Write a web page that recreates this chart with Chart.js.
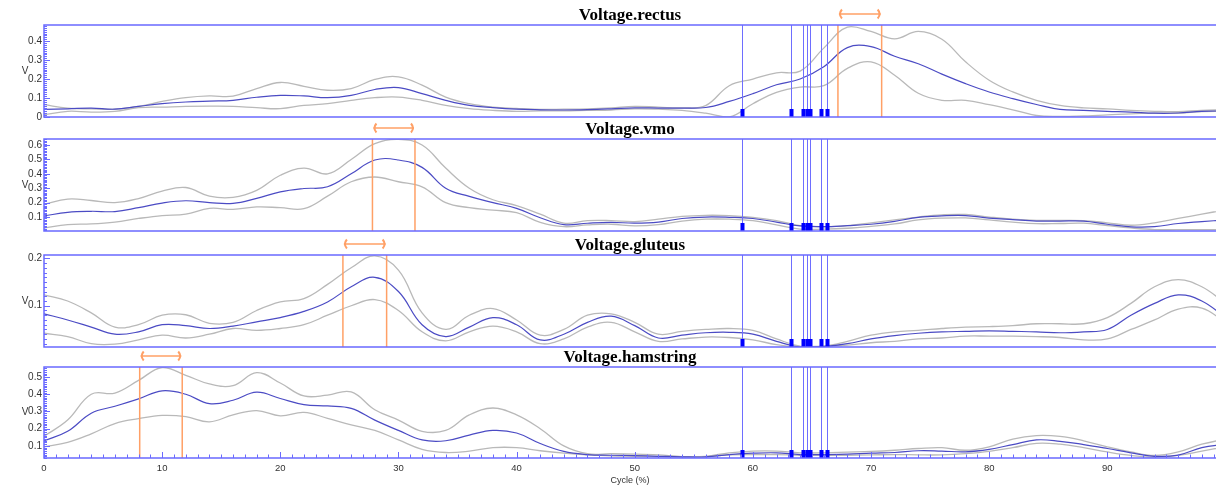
<!DOCTYPE html>
<html><head><meta charset="utf-8">
<script src="https://cdn.jsdelivr.net/npm/chart.js@4.4.1/dist/chart.umd.min.js"></script>
<style>
html,body{margin:0;padding:0;background:#fff;}
#wrap{position:relative;width:1216px;height:488px;overflow:hidden;background:#fff;}
canvas{position:absolute;left:0;}
</style></head><body>
<div id="wrap">
<canvas id="c1" width="1216" height="125" style="top:0px"></canvas>
<canvas id="c2" width="1216" height="125" style="top:114px"></canvas>
<canvas id="c3" width="1216" height="125" style="top:230px"></canvas>
<canvas id="c4" width="1216" height="146" style="top:342px"></canvas>
</div>
<script>
const cycle = [0,2,4,6,8,10,12,14,16,18,20,22,24,26,28,30,32,34,36,38,40,42,44,46,48,50,52,54,56,58,60,62,64,66,68,70,72,74,76,78,80,82,84,86,88,90,92,94,96,98,100];

const rectusUpper = [0.065,0.047,0.043,0.041,0.056,0.082,0.102,0.111,0.11,0.15,0.182,0.162,0.141,0.15,0.198,0.212,0.168,0.105,0.07,0.052,0.045,0.04,0.041,0.043,0.048,0.056,0.052,0.048,0.06,0.165,0.2,0.233,0.242,0.363,0.474,0.451,0.412,0.451,0.41,0.291,0.194,0.132,0.088,0.061,0.048,0.043,0.035,0.03,0.028,0.035,0.038];
const rectusMean  = [0.04,0.043,0.047,0.041,0.056,0.07,0.079,0.084,0.088,0.104,0.114,0.111,0.102,0.114,0.145,0.155,0.123,0.088,0.061,0.049,0.041,0.038,0.037,0.039,0.043,0.048,0.047,0.047,0.05,0.082,0.123,0.17,0.2,0.265,0.366,0.371,0.32,0.281,0.226,0.176,0.132,0.097,0.066,0.04,0.035,0.03,0.026,0.02,0.021,0.03,0.032];
const rectusLower = [0.012,0.03,0.026,0.03,0.049,0.052,0.056,0.057,0.056,0.049,0.044,0.061,0.07,0.088,0.102,0.105,0.088,0.061,0.044,0.035,0.03,0.032,0.032,0.035,0.037,0.043,0.041,0.035,0.02,0.0,0.07,0.13,0.158,0.165,0.256,0.291,0.22,0.125,0.088,0.088,0.065,0.038,0.008,0.003,0.006,0.011,0.017,0.02,0.021,0.028,0.03];

const vmoUpper = [0.188,0.225,0.215,0.2,0.228,0.28,0.305,0.245,0.237,0.285,0.39,0.44,0.4,0.5,0.61,0.64,0.6,0.44,0.3,0.22,0.18,0.12,0.058,0.075,0.075,0.068,0.085,0.105,0.112,0.11,0.098,0.075,0.04,0.032,0.04,0.06,0.08,0.1,0.115,0.118,0.1,0.085,0.077,0.077,0.075,0.06,0.043,0.06,0.09,0.12,0.15];
const vmoMean  = [0.107,0.133,0.14,0.138,0.165,0.197,0.213,0.2,0.195,0.23,0.275,0.298,0.31,0.4,0.496,0.496,0.445,0.3,0.243,0.2,0.16,0.095,0.047,0.057,0.063,0.058,0.065,0.09,0.1,0.098,0.09,0.065,0.038,0.033,0.04,0.05,0.07,0.098,0.108,0.11,0.093,0.082,0.072,0.072,0.072,0.05,0.032,0.033,0.055,0.068,0.08];
const vmoLower = [0.023,0.047,0.052,0.065,0.09,0.11,0.12,0.16,0.153,0.17,0.165,0.158,0.245,0.345,0.378,0.345,0.31,0.2,0.165,0.148,0.13,0.063,0.033,0.045,0.05,0.038,0.047,0.072,0.085,0.085,0.075,0.045,0.016,0.016,0.022,0.035,0.052,0.08,0.092,0.094,0.08,0.065,0.054,0.055,0.057,0.04,0.024,0.013,0.012,0.012,0.012];

const gluteusUpper = [0.123,0.11,0.085,0.055,0.06,0.08,0.081,0.063,0.065,0.09,0.108,0.115,0.145,0.18,0.205,0.175,0.085,0.05,0.08,0.094,0.07,0.038,0.05,0.08,0.083,0.065,0.04,0.046,0.05,0.052,0.048,0.03,0.015,0.015,0.025,0.038,0.045,0.048,0.052,0.055,0.056,0.058,0.062,0.062,0.062,0.075,0.105,0.14,0.155,0.14,0.105];
const gluteusMean  = [0.083,0.07,0.055,0.04,0.045,0.06,0.058,0.052,0.057,0.066,0.075,0.088,0.108,0.14,0.16,0.13,0.06,0.035,0.055,0.075,0.06,0.028,0.04,0.065,0.078,0.058,0.032,0.038,0.043,0.044,0.04,0.025,0.013,0.014,0.02,0.03,0.037,0.042,0.045,0.046,0.047,0.046,0.045,0.043,0.045,0.05,0.08,0.105,0.123,0.11,0.075];
const gluteusLower = [0.042,0.035,0.02,0.019,0.028,0.038,0.032,0.04,0.052,0.048,0.052,0.06,0.08,0.1,0.113,0.09,0.045,0.026,0.045,0.057,0.045,0.02,0.03,0.055,0.065,0.045,0.025,0.03,0.034,0.033,0.028,0.018,0.013,0.015,0.017,0.022,0.025,0.03,0.032,0.036,0.036,0.036,0.035,0.033,0.028,0.03,0.05,0.07,0.093,0.095,0.065];

const hamstringUpper = [0.156,0.25,0.4,0.407,0.48,0.555,0.51,0.46,0.45,0.525,0.465,0.39,0.395,0.413,0.31,0.25,0.185,0.19,0.28,0.32,0.28,0.2,0.1,0.055,0.055,0.053,0.048,0.038,0.04,0.06,0.07,0.07,0.06,0.06,0.064,0.068,0.075,0.085,0.09,0.075,0.095,0.14,0.16,0.155,0.13,0.095,0.065,0.045,0.065,0.11,0.14];
const hamstringMean  = [0.13,0.185,0.29,0.33,0.373,0.42,0.4,0.345,0.365,0.412,0.375,0.34,0.332,0.318,0.25,0.19,0.135,0.13,0.163,0.19,0.175,0.114,0.068,0.05,0.046,0.044,0.04,0.037,0.037,0.05,0.058,0.06,0.05,0.05,0.052,0.058,0.062,0.072,0.07,0.066,0.08,0.108,0.135,0.127,0.108,0.085,0.06,0.04,0.047,0.09,0.11];
const hamstringLower = [0.095,0.12,0.17,0.23,0.258,0.277,0.27,0.24,0.28,0.305,0.275,0.295,0.26,0.222,0.19,0.135,0.08,0.062,0.07,0.09,0.09,0.072,0.058,0.048,0.042,0.04,0.038,0.037,0.038,0.048,0.05,0.05,0.046,0.046,0.046,0.048,0.05,0.048,0.048,0.055,0.068,0.09,0.115,0.11,0.09,0.065,0.045,0.035,0.045,0.07,0.095];

const eventCycles = [59.05,63.2,64.27,64.56,64.81,65.74,66.3];
const rectusMarks = [67.2,70.9];
const vmoMarks = [27.8,31.4];
const gluteusMarks = [25.3,29.0];
const hamstringMarks = [8.1,11.7];

const rectusTicks = [0,0.1,0.2,0.3,0.4];
const vmoTicks = [0.1,0.2,0.3,0.4,0.5,0.6];
const gluteusTicks = [0.1,0.2];
const hamstringTicks = [0.1,0.2,0.3,0.4,0.5];
const cycleTicks = [0,10,20,30,40,50,60,70,80,90];

const FRAME = '#6a6aff';
const decor = {
  id: 'decor',
  afterDraw(chart, args, o) {
    const ctx = chart.ctx, a = chart.chartArea, x = chart.scales.x, y = chart.scales.y;
    ctx.save();
    // event lines
    ctx.strokeStyle = '#6e6eff';
    ctx.lineWidth = 1;
    for (const e of o.events) {
      const px = Math.round(x.getPixelForValue(e)) + 0.5;
      ctx.beginPath(); ctx.moveTo(px, a.top); ctx.lineTo(px, a.bottom); ctx.stroke();
    }
    ctx.fillStyle = '#0000ff';
    for (const e of o.events) {
      const px = x.getPixelForValue(e);
      ctx.fillRect(Math.round(px) - 1.5, a.bottom - 8, 4, 8);
    }
    // orange markers
    const p0 = x.getPixelForValue(o.marks[0]), p1 = x.getPixelForValue(o.marks[1]);
    ctx.strokeStyle = '#ffa066';
    ctx.lineWidth = 1.5;
    for (const p of [p0, p1]) {
      ctx.beginPath(); ctx.moveTo(p, a.top); ctx.lineTo(p, a.bottom); ctx.stroke();
    }
    const ay = a.top - 11;
    ctx.beginPath(); ctx.moveTo(p0 + 1, ay); ctx.lineTo(p1 - 1, ay); ctx.stroke();
    ctx.lineWidth = 2;
    ctx.beginPath(); ctx.moveTo(p0 + 4, ay - 4.5); ctx.quadraticCurveTo(p0, ay, p0 + 4, ay + 4.5); ctx.stroke();
    ctx.beginPath(); ctx.moveTo(p1 - 4, ay - 4.5); ctx.quadraticCurveTo(p1, ay, p1 - 4, ay + 4.5); ctx.stroke();
    // frame
    ctx.strokeStyle = FRAME;
    ctx.lineWidth = 1.5;
    ctx.beginPath();
    ctx.moveTo(a.right + 2, a.top); ctx.lineTo(a.left, a.top); ctx.lineTo(a.left, a.bottom); ctx.lineTo(a.right + 2, a.bottom);
    ctx.stroke();
    // y minor/major ticks
    ctx.lineWidth = 1;
    const i0 = Math.ceil(y.min * 100 - 1e-6), i1 = Math.floor(y.max * 100 + 1e-6);
    for (let i = i0; i <= i1; i++) {
      const py = Math.round(y.getPixelForValue(i / 100)) + 0.5;
      const len = (i % 10 === 0) ? 6 : 3;
      ctx.beginPath(); ctx.moveTo(a.left, py); ctx.lineTo(a.left + len, py); ctx.stroke();
    }
    // x ticks on bottom panel
    if (o.xticks) {
      for (let i = 0; i <= Math.floor(x.max); i++) {
        const px = Math.round(x.getPixelForValue(i)) + 0.5;
        const len = (i % 10 === 0) ? 6 : 3.5;
        ctx.beginPath(); ctx.moveTo(px, a.bottom); ctx.lineTo(px, a.bottom - len); ctx.stroke();
      }
    }
    // axis unit label
    ctx.fillStyle = '#333';
    ctx.font = '10px "Liberation Sans", Arial, sans-serif';
    ctx.textAlign = 'center';
    ctx.textBaseline = 'middle';
    ctx.fillText('V', 25, (a.top + a.bottom) / 2);
    ctx.restore();
  }
};

function makePanel(id, title, upper, mean, lower, ymin, ymax, ticks, marks, bottom) {
  const xScale = {
    type: 'linear', min: 0, max: 99.2, display: !!bottom,
    grid: { display: false, drawTicks: false },
    border: { display: false },
    afterBuildTicks: s => { s.ticks = cycleTicks.map(v => ({ value: v })); },
    ticks: { padding: 5, color: '#333', font: { family: 'Liberation Sans', size: 9.5 }, maxRotation: 0, autoSkip: false, callback: v => String(v) },
    title: { display: !!bottom, text: 'Cycle (%)', color: '#333', font: { family: 'Liberation Sans', size: 9 }, padding: { top: 0, bottom: 1.6 } }
  };
  if (bottom) xScale.afterFit = s => { s.height = 30; };
  const line = (data, color, w) => ({
    data: data.map((v, i) => ({ x: cycle[i], y: v })),
    borderColor: color, borderWidth: w, pointRadius: 0, fill: false,
    tension: 0.4
  });
  return new Chart(document.getElementById(id), {
    type: 'line',
    data: { datasets: [line(mean, '#4b4bc4', 1.2), line(upper, '#b9b9b9', 1.3), line(lower, '#b9b9b9', 1.3)] },
    options: {
      responsive: false, animation: false, events: [],
      layout: { padding: { top: 0, bottom: bottom ? 0 : 8, left: 0, right: 0 } },
      scales: {
        x: xScale,
        y: {
          type: 'linear', min: ymin, max: ymax,
          grid: { display: false, drawTicks: false },
          border: { display: false },
          afterBuildTicks: s => { s.ticks = ticks.map(v => ({ value: v })); },
          afterFit: s => { s.width = 44; },
          ticks: { padding: 2, color: '#333', font: { family: 'Liberation Sans', size: 10 }, callback: v => v === 0 ? '0' : v.toFixed(1) }
        }
      },
      plugins: {
        legend: { display: false },
        tooltip: { enabled: false },
        title: { display: true, text: title, fullSize: false, color: '#000', font: { family: 'Liberation Serif', size: 17, weight: 'bold', lineHeight: 1.1 }, padding: { top: 6, bottom: 0.3 } },
        decor: { events: eventCycles, marks: marks, xticks: !!bottom }
      }
    },
    plugins: [decor]
  });
}

makePanel('c1', 'Voltage.rectus', rectusUpper, rectusMean, rectusLower, 0, 0.485, rectusTicks, rectusMarks, false);
makePanel('c2', 'Voltage.vmo', vmoUpper, vmoMean, vmoLower, 0.003, 0.642, vmoTicks, vmoMarks, false);
makePanel('c3', 'Voltage.gluteus', gluteusUpper, gluteusMean, gluteusLower, 0.013, 0.207, gluteusTicks, gluteusMarks, false);
makePanel('c4', 'Voltage.hamstring', hamstringUpper, hamstringMean, hamstringLower, 0.03, 0.558, hamstringTicks, hamstringMarks, true);
</script>
</body></html>
